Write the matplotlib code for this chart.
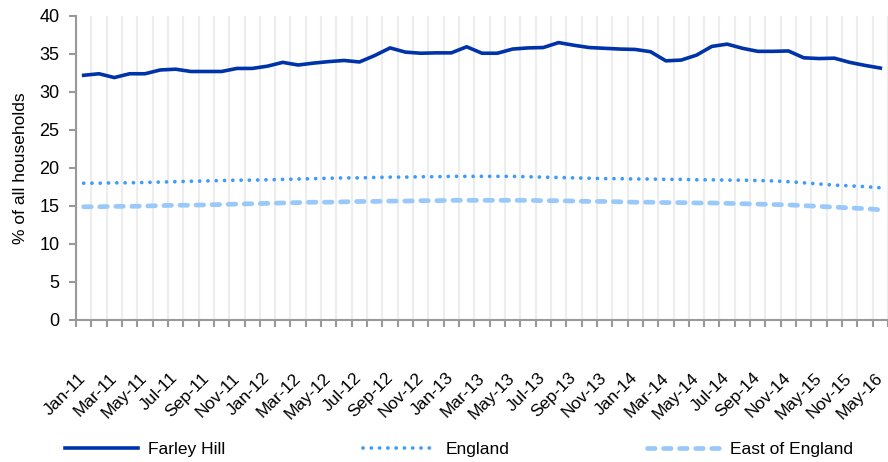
import numpy as np
import matplotlib
matplotlib.use("Agg")
import matplotlib.pyplot as plt

plt.rcParams['font.family'] = ['Liberation Sans', 'DejaVu Sans']

# Months shown in the chart (monthly to Nov-14, then quarterly)
months = ['Jan-11', 'Feb-11', 'Mar-11', 'Apr-11', 'May-11', 'Jun-11', 'Jul-11', 'Aug-11', 'Sep-11', 'Oct-11', 'Nov-11', 'Dec-11',
          'Jan-12', 'Feb-12', 'Mar-12', 'Apr-12', 'May-12', 'Jun-12', 'Jul-12', 'Aug-12', 'Sep-12', 'Oct-12', 'Nov-12', 'Dec-12',
          'Jan-13', 'Feb-13', 'Mar-13', 'Apr-13', 'May-13', 'Jun-13', 'Jul-13', 'Aug-13', 'Sep-13', 'Oct-13', 'Nov-13', 'Dec-13',
          'Jan-14', 'Feb-14', 'Mar-14', 'Apr-14', 'May-14', 'Jun-14', 'Jul-14', 'Aug-14', 'Sep-14', 'Oct-14', 'Nov-14',
          'Feb-15', 'May-15', 'Aug-15', 'Nov-15', 'Feb-16', 'May-16']

farley_hill = [32.2, 32.4, 31.9, 32.4, 32.4, 32.9, 33.0, 32.7, 32.7, 32.7, 33.1, 33.1,
               33.4, 33.9, 33.55, 33.8, 34.0, 34.15, 33.95, 34.8, 35.8, 35.25, 35.1, 35.15,
               35.15, 35.95, 35.1, 35.1, 35.65, 35.8, 35.85, 36.5, 36.15, 35.85, 35.75, 35.65,
               35.6, 35.3, 34.1, 34.2, 34.85, 36.0, 36.3, 35.75, 35.35, 35.35, 35.4,
               34.5, 34.4, 34.45, 33.9, 33.5, 33.15]

england = [18.0, 18.0, 18.05, 18.05, 18.1, 18.15, 18.2, 18.25, 18.3, 18.35, 18.4, 18.4,
           18.45, 18.5, 18.55, 18.6, 18.65, 18.7, 18.7, 18.75, 18.8, 18.8, 18.85, 18.85,
           18.9, 18.9, 18.9, 18.9, 18.9, 18.85, 18.8, 18.75, 18.7, 18.65, 18.6, 18.6,
           18.55, 18.55, 18.5, 18.5, 18.45, 18.45, 18.4, 18.4, 18.35, 18.3, 18.2,
           18.05, 17.9, 17.75, 17.65, 17.55, 17.4]

east_of_england = [14.9, 14.9, 14.95, 14.95, 15.0, 15.05, 15.1, 15.1, 15.15, 15.2, 15.25, 15.3,
                   15.35, 15.4, 15.45, 15.5, 15.5, 15.55, 15.6, 15.6, 15.65, 15.65, 15.7, 15.7,
                   15.75, 15.75, 15.75, 15.75, 15.75, 15.75, 15.7, 15.7, 15.65, 15.6, 15.6, 15.55,
                   15.5, 15.5, 15.45, 15.45, 15.4, 15.4, 15.35, 15.3, 15.25, 15.2, 15.15,
                   15.05, 14.95, 14.85, 14.75, 14.65, 14.5]

x = np.arange(len(months))

fig = plt.figure(figsize=(8.88, 4.62), dpi=100)
ax = fig.add_axes([76 / 888, 1 - 320 / 462, 1 - 76 / 888, 304 / 462])

ax.plot(x, farley_hill, color='#0033AA', lw=2.6, label='Farley Hill', zorder=4)
ax.plot(x, england, color='#3F9BF8', lw=2.7, dashes=(0.01, 2.2), dash_capstyle='round',
        label='England', zorder=3)
ax.plot(x, east_of_england, color='#99C9F9', lw=3.4, dashes=(1.6, 1.8), dash_capstyle='round',
        label='East of England', zorder=3)

ax.set_xlim(-0.5, len(months) - 0.5)
ax.set_ylim(0, 40)
ax.set_yticks(range(0, 41, 5))

# tick marks + grid on category boundaries, labels every other category
ax.set_xticks(np.arange(len(months) + 1) - 0.5)
ax.set_xticklabels([])
ax.set_xticks(x[::2], minor=True)
ax.set_xticklabels(months[::2], minor=True, rotation=45, ha='right', va='center',
                   rotation_mode='anchor', fontsize=12.5)
ax.tick_params(axis='x', which='minor', length=0, pad=40)
ax.tick_params(axis='x', which='major', length=5, width=1.5, color='#999999')
ax.tick_params(axis='y', length=5, width=1.5, color='#999999', labelsize=13, pad=7)
ax.xaxis.grid(True, which='major', color='#EDEDED', lw=1.6)
ax.set_axisbelow(True)

for s in ['top', 'right']:
    ax.spines[s].set_visible(False)
for s in ['left', 'bottom']:
    ax.spines[s].set_color('#999999')
    ax.spines[s].set_linewidth(1.5)

ax.set_ylabel('% of all households', fontsize=12.5, labelpad=8)

fig.legend(loc='center', bbox_to_anchor=(0.517, 0.028), ncol=3, frameon=False,
           fontsize=12.5, handlelength=4.2, columnspacing=7.9, handletextpad=0.6)

fig.savefig('out.png', dpi=100)
